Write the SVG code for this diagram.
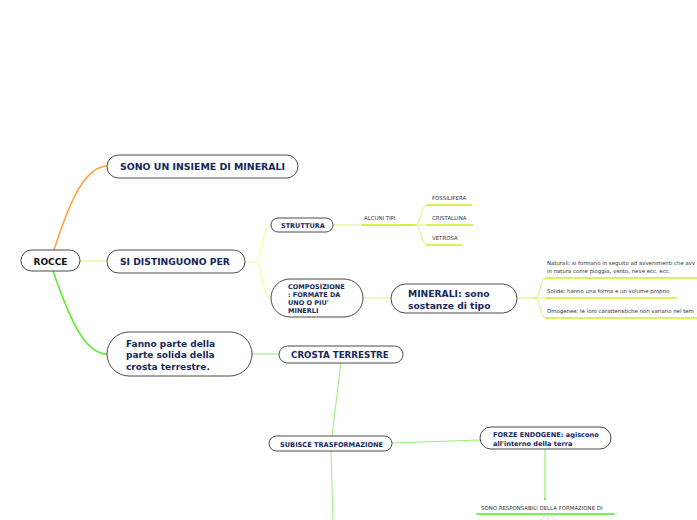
<svg xmlns="http://www.w3.org/2000/svg" width="697" height="520" viewBox="0 0 697 520">
<style>
.node{fill:#ffffff;stroke:#4a4a4a;stroke-width:1}
.t{font-family:"DejaVu Sans",Verdana,sans-serif;font-weight:bold;fill:#14285a}
.s{font-family:"DejaVu Sans",sans-serif;fill:#333333;font-size:5.4px}
.c{fill:none;stroke-linecap:round}
</style>
<rect width="697" height="520" fill="#ffffff"/>
<g id="connectors">
<path class="c" d="M54,250 C70,200 85,167 107,166" stroke="#ffa030" stroke-width="1.5"/>
<path class="c" d="M80,261 L107,261" stroke="#dcf060" stroke-width="1.2"/>
<path class="c" d="M53,271 C70,320 85,354 107,354" stroke="#55ee22" stroke-width="1.5"/>
<path class="c" d="M245,262 L256,262 C262,262 262,225 271,225 M256,262 C262,262 262,298 271,298" stroke="#eeff88" stroke-width="1"/>
<path class="c" d="M333,225 L415,225" stroke="#ddf080" stroke-width="1"/>
<path class="c" d="M362,225 L415,225" stroke="#c8ee22" stroke-width="1.3"/>
<path class="c" d="M415,225 C422,225 420,205 427,205 M415,225 L427,225 M415,225 C422,225 420,245 427,245" stroke="#ddf070" stroke-width="1"/>
<path class="c" d="M427,205 L472,205 M427,225 L473,225 M427,245 L462,245" stroke="#ccf020" stroke-width="1.3"/>
<path class="c" d="M363,298 L391,298" stroke="#ddf070" stroke-width="1"/>
<path class="c" d="M517,298 L535,298 C541,298 539,278 546,278 M535,298 L546,298 M535,298 C541,298 539,318 546,318" stroke="#ddf070" stroke-width="1"/>
<path class="c" d="M546,278 L697,278 M546,298 L677,298 M546,318 L697,318" stroke="#ccf020" stroke-width="1.3"/>
<path class="c" d="M252,354 L279,354" stroke="#88ee66" stroke-width="1"/>
<path class="c" d="M341,362 L332,436" stroke="#99ee77" stroke-width="1"/>
<path class="c" d="M331,451 L333,520" stroke="#99ee77" stroke-width="1"/>
<path class="c" d="M392,443 L480,440" stroke="#99ee77" stroke-width="1"/>
<path class="c" d="M545,450 L545,499" stroke="#77ee55" stroke-width="1"/>
<circle cx="545" cy="499" r="1" fill="#55dd33"/>
<path class="c" d="M477,514 L614,514" stroke="#44ee22" stroke-width="1.6"/>
<path class="c" d="M545,515 L541,520 M548,515 L548,520 M551,515 L555,520" stroke="#bbf0aa" stroke-width="1"/>
</g>
<g id="rocce">
<rect class="node" x="21" y="250" width="59" height="21" rx="10.5"/>
<text x="50.5" y="264.5" text-anchor="middle" style="font-family:'DejaVu Sans',Verdana,sans-serif;font-weight:bold;font-size:9px;fill:#111">ROCCE</text>
</g>
<g id="sono-insieme">
<rect class="node" x="107" y="155" width="191" height="23" rx="11.5"/>
<text class="t" x="120" y="170" font-size="9.4">SONO UN INSIEME DI MINERALI</text>
</g>
<g id="si-distinguono">
<rect class="node" x="107" y="250" width="138" height="23" rx="11.5"/>
<text class="t" x="120" y="265" font-size="9.2">SI DISTINGUONO PER</text>
</g>
<g id="fanno-parte">
<rect class="node" x="107" y="332" width="145" height="44" rx="22"/>
<text class="t" x="126" y="346.5" font-size="9">Fanno parte della</text>
<text class="t" x="126" y="358" font-size="9">parte solida della</text>
<text class="t" x="126" y="369.5" font-size="9">crosta terrestre.</text>
</g>
<g id="struttura">
<rect class="node" x="271" y="218" width="62" height="14" rx="7"/>
<text class="t" x="281" y="227.5" font-size="6.5">STRUTTURA</text>
</g>
<g id="alcuni-tipi">
<text class="s" x="364" y="219.5">ALCUNI TIPI</text>
</g>
<g id="fossilifera"><text class="s" x="432" y="199.5">FOSSILIFERA</text></g>
<g id="cristallina"><text class="s" x="432" y="219.5">CRISTALLINA</text></g>
<g id="vetrosa"><text class="s" x="432" y="239.5">VETROSA</text></g>
<g id="composizione">
<rect class="node" x="271" y="279" width="92" height="38" rx="19"/>
<text class="t" x="288" y="289" font-size="6.5">COMPOSIZIONE</text>
<text class="t" x="288" y="297" font-size="6.5">: FORMATE DA</text>
<text class="t" x="288" y="305" font-size="6.5">UNO O PIU'</text>
<text class="t" x="288" y="313" font-size="6.5">MINERLI</text>
</g>
<g id="minerali">
<rect class="node" x="391" y="284" width="126" height="29" rx="14.5"/>
<text class="t" x="408" y="297" font-size="9.2">MINERALI: sono</text>
<text class="t" x="408" y="308.5" font-size="9.2">sostanze di tipo</text>
</g>
<g id="naturali">
<text class="s" x="547" y="265">Naturali: si formano in seguito ad avvenimenti che avv</text>
<text class="s" x="547" y="273">in natura come pioggia, vento, neve ecc. ecc.</text>
</g>
<g id="solide"><text class="s" x="547" y="293">Solide: hanno una forma e un volume proprio</text></g>
<g id="omogenee"><text class="s" x="547" y="313">Omogenee: le loro caratteristiche non variano nel tem</text></g>
<g id="crosta">
<rect class="node" x="279" y="346" width="124" height="17" rx="8.5"/>
<text class="t" x="291" y="357.5" font-size="8.7">CROSTA TERRESTRE</text>
</g>
<g id="subisce">
<rect class="node" x="269" y="436" width="123" height="15" rx="7.5"/>
<text class="t" x="280" y="446.5" font-size="6.6">SUBISCE TRASFORMAZIONE</text>
</g>
<g id="forze">
<rect class="node" x="480" y="427" width="131" height="22" rx="11"/>
<text class="t" x="493" y="437" font-size="6.6">FORZE ENDOGENE: agiscono</text>
<text class="t" x="493" y="445.5" font-size="6.6">all'interno della terra</text>
</g>
<g id="responsabili">
<text class="s" x="481" y="509.5">SONO RESPONSABILI DELLA FORMAZIONE DI</text>
</g>
</svg>
